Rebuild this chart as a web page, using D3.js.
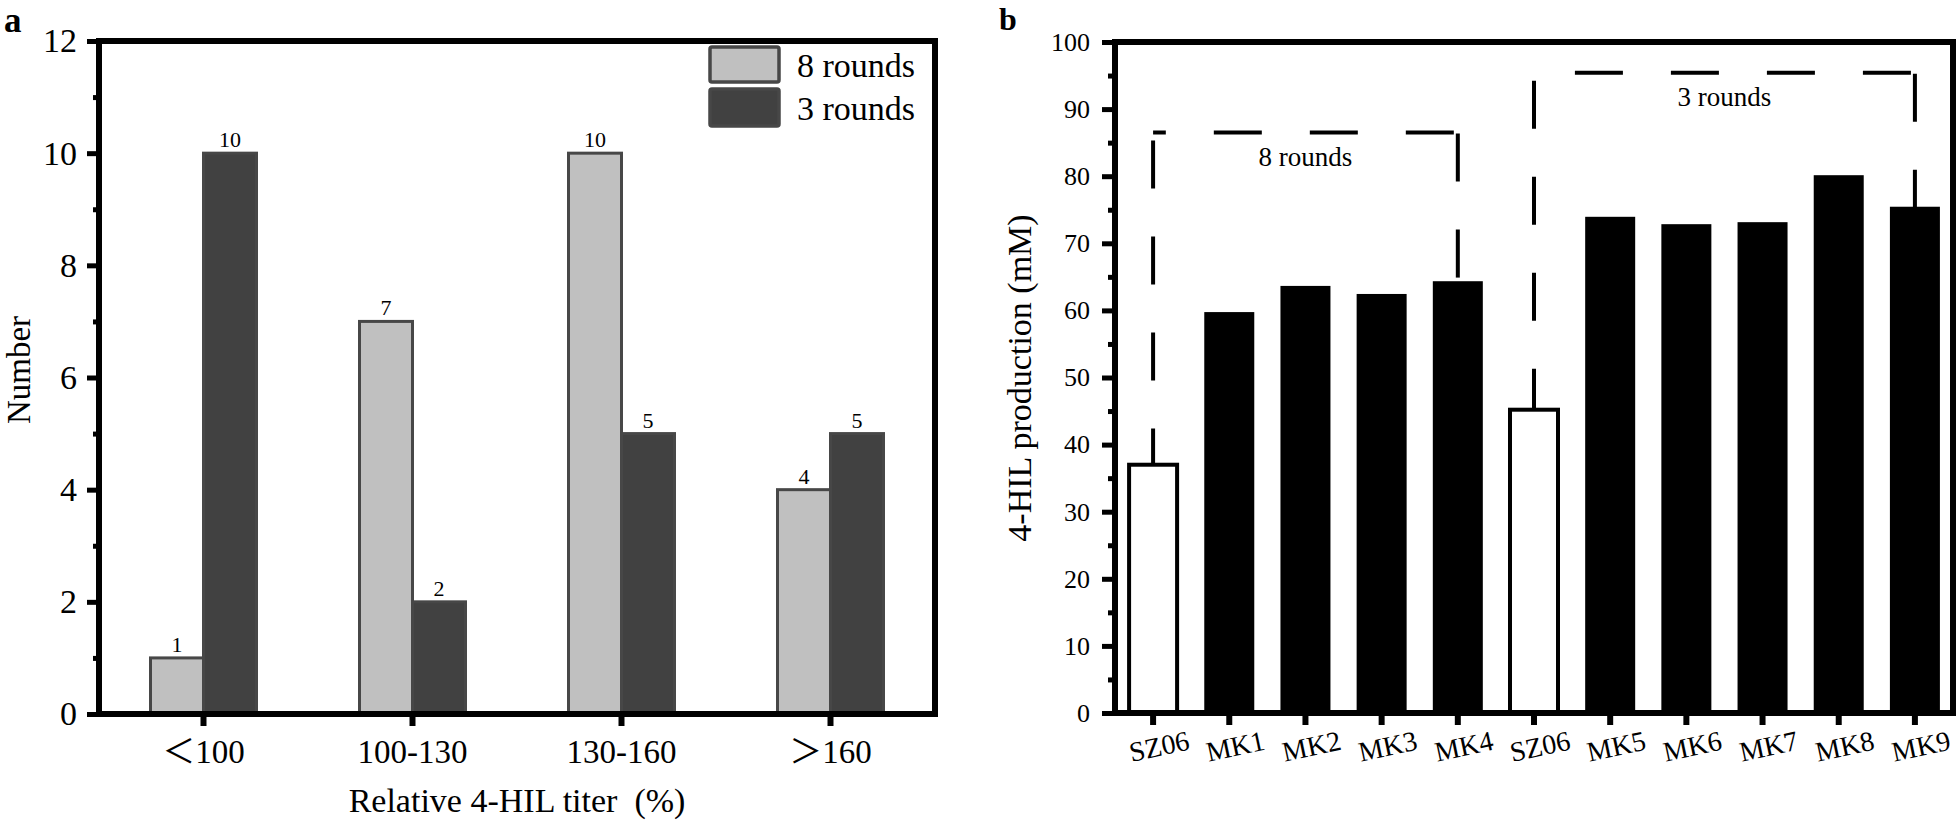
<!DOCTYPE html>
<html>
<head>
<meta charset="utf-8">
<script src="https://cdn.jsdelivr.net/npm/d3@7"></script>
<style>
  html, body { margin: 0; padding: 0; background: #fff; }
  svg { display: block; font-family: "Liberation Serif", "Times New Roman", "Noto Sans CJK SC", serif; }
</style>
</head>
<body>
<svg id="chart" width="1958" height="822"></svg>
<script>
// ---------- Panel a data ----------
const catsA = ["＜100", "100-130", "130-160", "＞160"];
const rounds8 = [1, 7, 10, 4];
const rounds3 = [10, 2, 5, 5];
const seriesNamesA = ["8 rounds", "3 rounds"];
const yTicksA = [0, 2, 4, 6, 8, 10, 12];
const yMinorA = [1, 3, 5, 7, 9, 11];

// ---------- Panel b data ----------
const strainsB = ["SZ06", "MK1", "MK2", "MK3", "MK4", "SZ06", "MK5", "MK6", "MK7", "MK8", "MK9"];
const productionB = [37, 59.6, 63.5, 62.3, 64.2, 45.2, 73.8, 72.7, 73.0, 80.0, 75.3];
const yTicksB = [0, 10, 20, 30, 40, 50, 60, 70, 80, 90, 100];
const yMinorB = [5, 15, 25, 35, 45, 55, 65, 75, 85, 95];
const groupLabelsB = ["8 rounds", "3 rounds"];
const groupFromB = [0, 5];
const groupToB = [4, 10];
const groupLevelB = [86.5, 95.4];

const svg = d3.select("#chart");
svg.append("rect").attr("width", 1958).attr("height", 822).attr("fill", "#fff");

const LIGHT = "#c0c0c0", DARK = "#414141", EDGE = "#474747";

// =================== Panel a ===================
(function () {
  const x0 = 99, x1 = 935, y0 = 714, y1 = 41;
  const g = svg.append("g");
  const xA = d3.scaleBand().domain(catsA).range([x0, x1]).padding(0);
  const yA = d3.scaleLinear().domain([0, 12]).range([y0, y1]);
  const barW = 53;

  const series = [rounds8, rounds3];
  const fills = [LIGHT, DARK];
  series.forEach((vals, si) => {
    g.selectAll(null).data(vals).enter().append("rect")
      .attr("x", (d, i) => xA(catsA[i]) + xA.bandwidth() / 2 - (si === 0 ? barW : 0))
      .attr("y", d => yA(d))
      .attr("width", barW)
      .attr("height", d => y0 - yA(d))
      .attr("fill", fills[si])
      .attr("stroke", EDGE)
      .attr("stroke-width", 3);
    g.selectAll(null).data(vals).enter().append("text")
      .attr("x", (d, i) => xA(catsA[i]) + xA.bandwidth() / 2 + (si === 0 ? -barW / 2 : barW / 2))
      .attr("y", d => yA(d) - 6)
      .attr("text-anchor", "middle")
      .attr("font-size", 22)
      .attr("fill", "#000")
      .text(d => d);
  });

  g.append("rect").attr("x", x0).attr("y", y1).attr("width", x1 - x0).attr("height", y0 - y1)
    .attr("fill", "none").attr("stroke", "#000").attr("stroke-width", 6);

  const ya = g.append("g").attr("transform", `translate(${x0},0)`)
    .call(d3.axisLeft(yA).tickValues(yTicksA).tickSize(12).tickPadding(10).tickSizeOuter(0));
  ya.select(".domain").remove();
  ya.selectAll("line").attr("stroke", "#000").attr("stroke-width", 5);
  ya.selectAll("text").attr("font-size", 34).attr("font-family", "Liberation Serif").attr("fill", "#000");
  const ym = g.append("g").attr("transform", `translate(${x0},0)`)
    .call(d3.axisLeft(yA).tickValues(yMinorA).tickSize(6).tickFormat(""));
  ym.select(".domain").remove();
  ym.selectAll("line").attr("stroke", "#000").attr("stroke-width", 5);

  const xa = g.append("g").attr("transform", `translate(0,${y0})`)
    .call(d3.axisBottom(xA).tickSize(12).tickSizeOuter(0));
  xa.select(".domain").remove();
  xa.selectAll("line").attr("stroke", "#000").attr("stroke-width", 6);
  xa.selectAll("text").attr("font-size", 33).attr("y", 49).attr("dy", 0)
    .attr("font-family", "Liberation Serif, Noto Sans CJK SC").attr("fill", "#000");

  g.append("text").attr("x", (x0 + x1) / 2).attr("y", 812).attr("text-anchor", "middle")
    .attr("font-size", 34).style("white-space", "pre").text("Relative 4-HIL titer  (%)");
  g.append("text").attr("transform", `translate(30,370) rotate(-90)`).attr("text-anchor", "middle")
    .attr("font-size", 33).text("Number");

  const lg = g.append("g");
  const boxes = [[47, 35], [89, 37]];
  seriesNamesA.forEach((name, i) => {
    lg.append("rect").attr("x", 710).attr("y", boxes[i][0]).attr("width", 69).attr("height", boxes[i][1])
      .attr("rx", 2).attr("fill", fills[i]).attr("stroke", EDGE).attr("stroke-width", 3.5);
    lg.append("text").attr("x", 797).attr("y", [77, 120][i]).attr("font-size", 34).text(name);
  });

  g.append("text").attr("x", 4).attr("y", 32).attr("font-size", 35).attr("font-weight", "bold").text("a");
})();

// =================== Panel b ===================
(function () {
  const x0 = 1115, x1 = 1953, y0 = 713, y1 = 42;
  const g = svg.append("g");
  const idx = d3.range(strainsB.length);
  const xB = d3.scaleBand().domain(idx).range([x0, x1]).padding(0);
  const yB = d3.scaleLinear().domain([0, 100]).range([y0, y1]);
  const barW = 48;
  const cx = i => xB(i) + xB.bandwidth() / 2;

  g.selectAll(null).data(productionB).enter().append("rect")
    .attr("x", (d, i) => cx(i) - barW / 2)
    .attr("y", d => yB(d))
    .attr("width", barW)
    .attr("height", d => y0 - yB(d))
    .attr("fill", (d, i) => strainsB[i] === "SZ06" ? "#fff" : "#000")
    .attr("stroke", "#000")
    .attr("stroke-width", (d, i) => strainsB[i] === "SZ06" ? 4 : 2);

  const dash = "48,48";
  groupLabelsB.forEach((lab, k) => {
    const yl = yB(groupLevelB[k]);
    const xl = cx(groupFromB[k]), xr = cx(groupToB[k]);
    g.append("line").attr("x1", xr - 4).attr("y1", yl).attr("x2", xl).attr("y2", yl)
      .attr("stroke", "#000").attr("stroke-width", 4).attr("stroke-dasharray", dash);
    g.append("line").attr("x1", xl).attr("y1", yl + 8).attr("x2", xl).attr("y2", yB(productionB[groupFromB[k]]))
      .attr("stroke", "#000").attr("stroke-width", 4).attr("stroke-dasharray", dash);
    g.append("line").attr("x1", xr).attr("y1", yl + 1).attr("x2", xr).attr("y2", yB(productionB[groupToB[k]]))
      .attr("stroke", "#000").attr("stroke-width", 4).attr("stroke-dasharray", dash);
    g.append("text").attr("x", (xl + xr) / 2).attr("y", yl + 33).attr("text-anchor", "middle")
      .attr("font-size", 27).text(lab);
  });

  g.append("rect").attr("x", x0).attr("y", y1).attr("width", x1 - x0).attr("height", y0 - y1)
    .attr("fill", "none").attr("stroke", "#000").attr("stroke-width", 6);

  const ya = g.append("g").attr("transform", `translate(${x0},0)`)
    .call(d3.axisLeft(yB).tickValues(yTicksB).tickSize(13).tickPadding(12).tickSizeOuter(0));
  ya.select(".domain").remove();
  ya.selectAll("line").attr("stroke", "#000").attr("stroke-width", 5);
  ya.selectAll("text").attr("font-size", 26).attr("font-family", "Liberation Serif").attr("fill", "#000");
  const ym = g.append("g").attr("transform", `translate(${x0},0)`)
    .call(d3.axisLeft(yB).tickValues(yMinorB).tickSize(7).tickFormat(""));
  ym.select(".domain").remove();
  ym.selectAll("line").attr("stroke", "#000").attr("stroke-width", 5);

  const xa = g.append("g").attr("transform", `translate(0,${y0})`)
    .call(d3.axisBottom(xB).tickSize(12).tickSizeOuter(0).tickFormat(i => strainsB[i]));
  xa.select(".domain").remove();
  xa.selectAll("line").attr("stroke", "#000").attr("stroke-width", 6);
  xa.selectAll("text").attr("font-size", 28).attr("font-family", "Liberation Serif").attr("fill", "#000")
    .attr("x", 0).attr("y", 0).attr("dy", "0.35em").attr("text-anchor", "middle")
    .attr("transform", "translate(6,33) rotate(-12)");

  g.append("text").attr("transform", `translate(1031,378) rotate(-90)`).attr("text-anchor", "middle")
    .attr("font-size", 34).text("4-HIL production (mM)");

  g.append("text").attr("x", 999).attr("y", 30).attr("font-size", 32).attr("font-weight", "bold").text("b");
})();
</script>
</body>
</html>
